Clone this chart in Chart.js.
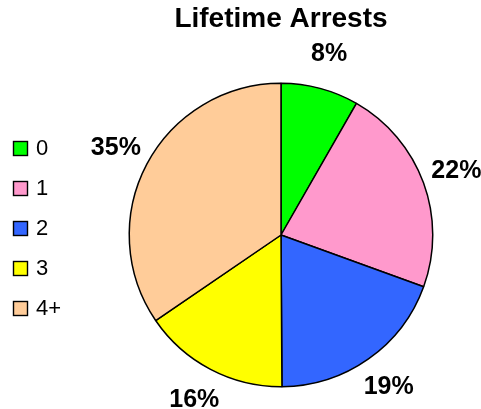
<!DOCTYPE html>
<html>
<head>
<meta charset="utf-8">
<script src="https://cdn.jsdelivr.net/npm/chart.js@4.4.1/dist/chart.umd.min.js"></script>
<style>
  html, body { margin: 0; padding: 0; background: #ffffff; }
  #wrap { width: 481px; height: 409px; }
</style>
</head>
<body>
<div id="wrap"><canvas id="c" width="481" height="409"></canvas></div>
<script>
const chartTitle = 'Lifetime Arrests';
const categories = ['0', '1', '2', '3', '4+'];
const arrestShares = [8.3, 22.3, 19.4, 15.6, 34.6];
const sliceColors = ['#00FF00', '#FF99CC', '#3366FF', '#FFFF00', '#FFCC99'];

const FONT = '"Liberation Sans", Arial, Helvetica, sans-serif';

const pctLabelPlugin = {
  id: 'pctLabels',
  afterDatasetsDraw(chart) {
    const ctx = chart.ctx;
    const meta = chart.getDatasetMeta(0);
    const data = chart.data.datasets[0].data;
    const total = data.reduce((a, b) => a + b, 0);
    ctx.save();
    ctx.font = 'bold 25px ' + FONT;
    ctx.fillStyle = '#000';
    ctx.textAlign = 'center';
    ctx.textBaseline = 'middle';
    meta.data.forEach((arc, i) => {
      const p = arc.getProps(['x', 'y', 'startAngle', 'endAngle', 'outerRadius'], true);
      const mid = (p.startAngle + p.endAngle) / 2;
      const r = p.outerRadius + 35;
      const tx = p.x + Math.cos(mid) * r;
      const ty = p.y + Math.sin(mid) * r;
      ctx.fillText(Math.round(data[i] / total * 100) + '%', tx, ty);
    });
    ctx.restore();
  }
};

const legendPlugin = {
  id: 'sideLegend',
  afterDraw(chart) {
    const ctx = chart.ctx;
    const labels = chart.data.labels;
    const colors = chart.data.datasets[0].backgroundColor;
    ctx.save();
    ctx.font = '22px ' + FONT;
    ctx.textBaseline = 'middle';
    ctx.textAlign = 'left';
    labels.forEach((lab, i) => {
      const cy = 148.5 + i * 40;
      ctx.fillStyle = colors[i];
      ctx.fillRect(13.5, cy - 7, 14, 14);
      ctx.strokeStyle = '#000';
      ctx.lineWidth = 1.4;
      ctx.strokeRect(13.5, cy - 7, 14, 14);
      ctx.fillStyle = '#000';
      ctx.fillText(lab, 36, cy + 0.5);
    });
    ctx.restore();
  }
};

new Chart(document.getElementById('c'), {
  type: 'pie',
  data: {
    labels: categories,
    datasets: [{
      data: arrestShares,
      backgroundColor: sliceColors,
      borderColor: '#000000',
      borderWidth: 1.5
    }]
  },
  options: {
    responsive: false,
    animation: false,
    layout: { padding: { left: 128.5, right: 47.5, top: 0, bottom: 21.5 } },
    plugins: {
      legend: { display: false },
      tooltip: { enabled: false },
      title: {
        display: true,
        text: chartTitle,
        color: '#000',
        font: { family: FONT, size: 28, weight: 'bold' },
        padding: { top: 2.8, bottom: 46.1 }
      }
    }
  },
  plugins: [pctLabelPlugin, legendPlugin]
});
</script>
</body>
</html>
